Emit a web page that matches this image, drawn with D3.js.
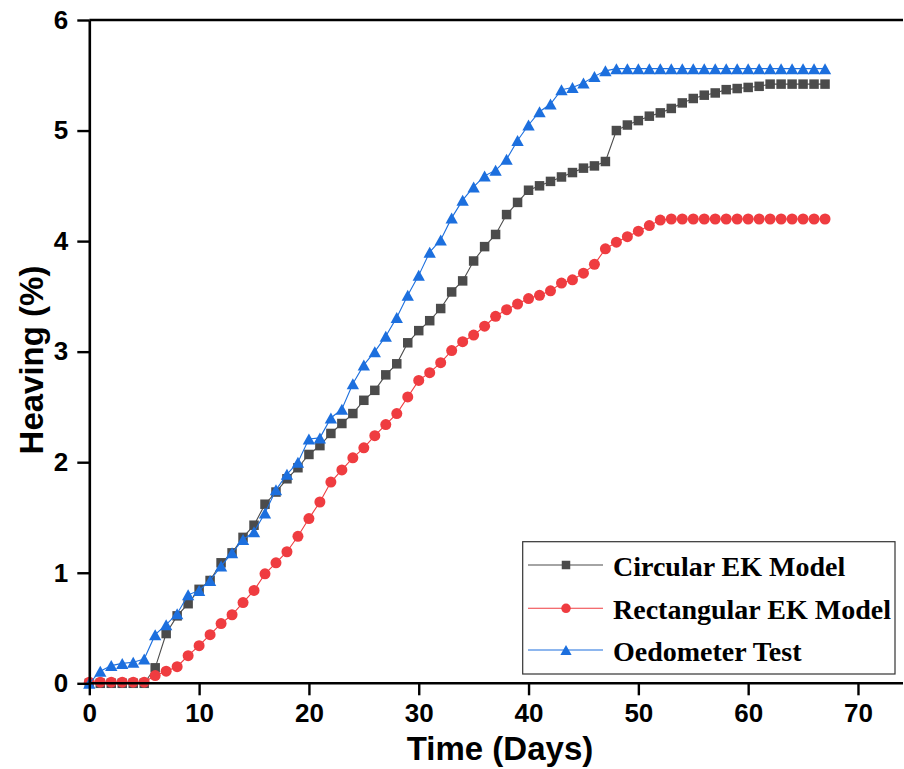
<!DOCTYPE html>
<html>
<head>
<meta charset="utf-8">
<script src="https://cdn.jsdelivr.net/npm/d3@7/dist/d3.min.js"></script>
<style>
  html, body { margin: 0; padding: 0; background: #fff; }
  svg { display: block; }
</style>
</head>
<body>
<svg id="chart" width="904" height="769"></svg>
<script>
// Time (days) for each measurement
const days = [0,1,2,3,4,5,6,7,8,9,10,11,12,13,14,15,16,17,18,19,20,21,22,23,24,25,26,27,28,29,30,31,32,33,34,35,36,37,38,39,40,41,42,43,44,45,46,47,48,49,50,51,52,53,54,55,56,57,58,59,60,61,62,63,64,65,66,67];

// Heaving (%) per series
const circularEK = [0,0,0,0,0,0,0.14,0.45,0.61,0.72,0.85,0.93,1.09,1.18,1.32,1.43,1.62,1.73,1.85,1.95,2.07,2.15,2.26,2.35,2.44,2.56,2.65,2.79,2.89,3.08,3.19,3.28,3.39,3.54,3.64,3.82,3.95,4.06,4.24,4.35,4.46,4.50,4.54,4.58,4.62,4.66,4.68,4.72,5.00,5.05,5.09,5.13,5.16,5.20,5.25,5.29,5.32,5.34,5.37,5.38,5.39,5.40,5.42,5.42,5.42,5.42,5.42,5.42];
const rectangularEK = [0.01,0.01,0.01,0.01,0.01,0.01,0.07,0.11,0.15,0.25,0.34,0.44,0.54,0.62,0.73,0.84,0.99,1.09,1.19,1.33,1.49,1.64,1.82,1.93,2.04,2.13,2.24,2.34,2.44,2.59,2.74,2.81,2.90,3.01,3.09,3.15,3.23,3.32,3.38,3.43,3.48,3.51,3.55,3.62,3.65,3.71,3.79,3.93,3.99,4.04,4.09,4.14,4.19,4.20,4.20,4.20,4.20,4.20,4.20,4.20,4.20,4.20,4.20,4.20,4.20,4.20,4.20,4.20];
const oedometer = [0,0.11,0.16,0.18,0.19,0.22,0.44,0.53,0.63,0.80,0.84,0.93,1.06,1.18,1.30,1.37,1.54,1.75,1.89,2.00,2.21,2.22,2.40,2.48,2.71,2.88,3.00,3.14,3.31,3.51,3.69,3.90,4.01,4.21,4.37,4.49,4.59,4.64,4.74,4.91,5.05,5.17,5.24,5.37,5.39,5.43,5.49,5.54,5.56,5.56,5.56,5.56,5.56,5.56,5.56,5.56,5.56,5.56,5.56,5.56,5.56,5.56,5.56,5.56,5.56,5.56,5.56,5.56];

const seriesNames = ["Circular EK Model", "Rectangular EK Model", "Oedometer Test"];
const xTicks = [0,10,20,30,40,50,60,70];
const yTicks = [0,1,2,3,4,5,6];

const series = [
  { name: seriesNames[0], values: circularEK, color: "#4b4b4b", marker: "square" },
  { name: seriesNames[1], values: rectangularEK, color: "#ef3c40", marker: "circle" },
  { name: seriesNames[2], values: oedometer, color: "#1c6fde", marker: "triangle" }
];

const svg = d3.select("#chart");
const x = d3.scaleLinear().domain([0, 74.1]).range([89.3, 903]);
const y = d3.scaleLinear().domain([0, 6]).range([683.3, 20]);

// marker shapes centred on the data point
function markerPath(type, s) {
  if (type === "square") {
    const h = s / 2;
    return `M${-h},${-h}H${h}V${h}H${-h}Z`;
  }
  if (type === "triangle") {
    const w = s * 0.56, h = s * 0.5;
    return `M0,${-h}L${w},${h}L${-w},${h}Z`;
  }
  const r = s / 2;
  return `M${r},0A${r},${r} 0 1,1 ${-r},0A${r},${r} 0 1,1 ${r},0Z`;
}
const markerSize = { square: 9.5, circle: 11, triangle: 11 };

// series lines and markers
const line = d3.line().x((d, i) => x(days[i])).y(d => y(d));
series.forEach(s => {
  const g = svg.append("g");
  g.append("path")
    .attr("d", line(s.values))
    .attr("fill", "none")
    .attr("stroke", s.color)
    .attr("stroke-width", 1.1);
  g.selectAll("path.mk")
    .data(s.values)
    .join("path")
    .attr("class", "mk")
    .attr("transform", (d, i) => `translate(${x(days[i])},${y(d)})`)
    .attr("d", markerPath(s.marker, markerSize[s.marker]))
    .attr("fill", s.color);
});

// axes
const xAxis = d3.axisBottom(x).tickValues(xTicks).tickFormat(d3.format("d"))
  .tickSize(12).tickSizeOuter(0).tickPadding(8);
const yAxis = d3.axisLeft(y).tickValues(yTicks).tickFormat(d3.format("d"))
  .tickSize(12).tickSizeOuter(0).tickPadding(9);

const gx = svg.append("g").attr("transform", `translate(0,${y(0)})`).call(xAxis);
const gy = svg.append("g").attr("transform", `translate(${x(0)},0)`).call(yAxis);

[gx, gy].forEach(g => {
  g.select(".domain").attr("stroke", "#000").attr("stroke-width", 2.6);
  g.selectAll(".tick line").attr("stroke", "#000").attr("stroke-width", 2.4);
  g.selectAll(".tick text")
    .attr("fill", "#000")
    .style("font-family", "'Liberation Sans', Arial, sans-serif")
    .style("font-weight", "bold")
    .style("font-size", "26px");
});
gx.select(".domain").attr("d", `M${x(0)},0H${x.range()[1]}`);

// top frame line
svg.append("line")
  .attr("x1", x(0)).attr("x2", x.range()[1])
  .attr("y1", y(6)).attr("y2", y(6))
  .attr("stroke", "#000").attr("stroke-width", 2.6);

// axis titles
svg.append("text")
  .attr("x", 500).attr("y", 760)
  .attr("text-anchor", "middle")
  .style("font-family", "'Liberation Sans', Arial, sans-serif")
  .style("font-weight", "bold")
  .style("font-size", "33px")
  .text("Time (Days)");

svg.append("text")
  .attr("transform", "translate(43,360) rotate(-90)")
  .attr("text-anchor", "middle")
  .style("font-family", "'Liberation Sans', Arial, sans-serif")
  .style("font-weight", "bold")
  .style("font-size", "33px")
  .text("Heaving (%)");

// legend
const legend = svg.append("g");
legend.append("rect")
  .attr("x", 522.7).attr("y", 541.7)
  .attr("width", 372.3).attr("height", 132.3)
  .attr("fill", "#fff")
  .attr("stroke", "#333").attr("stroke-width", 1.2);

const rowY = [565, 608.3, 650];
series.forEach((s, i) => {
  const gy0 = rowY[i];
  legend.append("line")
    .attr("x1", 528).attr("x2", 603)
    .attr("y1", gy0).attr("y2", gy0)
    .attr("stroke", s.color).attr("stroke-width", 1.1);
  legend.append("path")
    .attr("transform", `translate(566,${gy0})`)
    .attr("d", markerPath(s.marker, s.marker === "circle" ? 9.5 : s.marker === "triangle" ? 10 : 8.5))
    .attr("fill", s.color);
  legend.append("text")
    .attr("x", 613).attr("y", gy0 + 11)
    .style("font-family", "'Liberation Serif', 'Times New Roman', serif")
    .style("font-weight", "bold")
    .style("font-size", "28px")
    .attr("fill", "#000")
    .text(s.name);
});
</script>
</body>
</html>
